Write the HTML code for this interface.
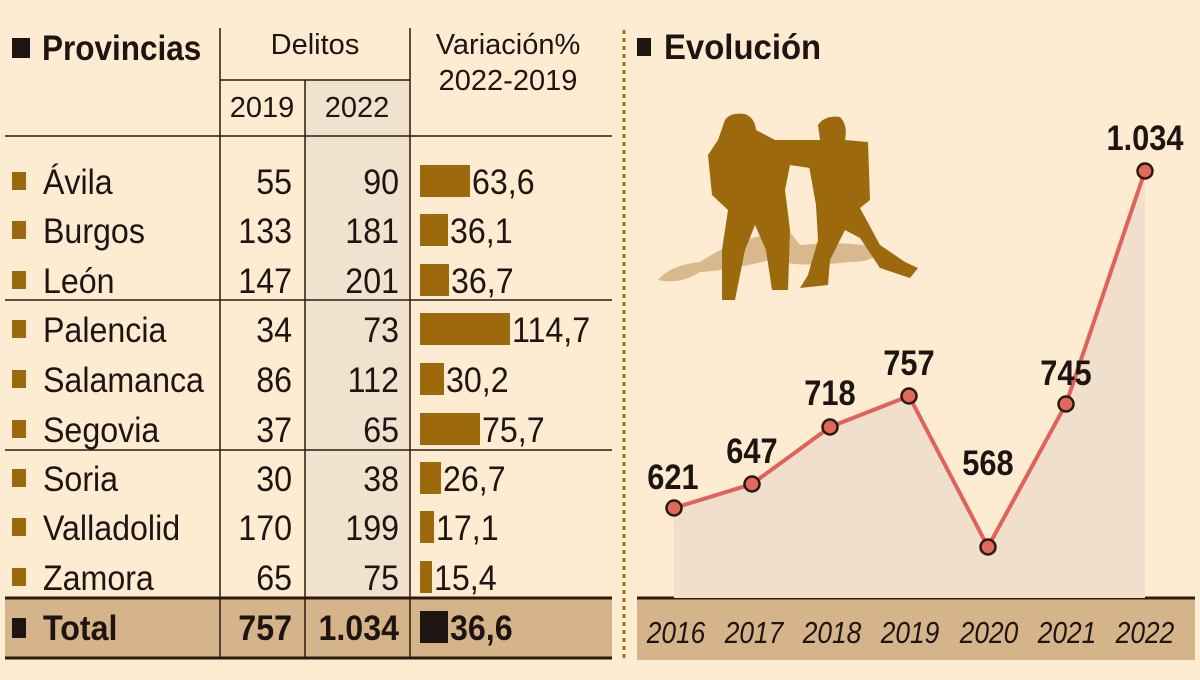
<!DOCTYPE html>
<html><head><meta charset="utf-8"><style>html,body{margin:0;padding:0;background:#fdecd2}</style></head><body>
<svg width="1200" height="675" viewBox="0 0 1200 675" xmlns="http://www.w3.org/2000/svg" font-family="Liberation Sans, sans-serif">
<rect width="1200" height="675" fill="#fdecd2"/>
<rect x="305" y="80" width="105" height="518" fill="#f1e2cf"/>
<rect x="5" y="598" width="607" height="60" fill="#d6b48a"/>
<g stroke="#2a1a10" stroke-width="1.5">
<line x1="220" y1="28" x2="220" y2="658"/>
<line x1="410" y1="28" x2="410" y2="658"/>
<line x1="220" y1="80" x2="410" y2="80"/>
<line x1="305" y1="80" x2="305" y2="658"/>
<line x1="5" y1="136" x2="612" y2="136"/>
<line x1="5" y1="300" x2="612" y2="300"/>
<line x1="5" y1="450" x2="612" y2="450"/>
</g>
<line x1="5" y1="598" x2="612" y2="598" stroke="#2a1a10" stroke-width="3"/>
<line x1="5" y1="658" x2="612" y2="658" stroke="#2a1a10" stroke-width="3"/>
<rect x="12" y="38" width="18" height="20" fill="#1e1412"/>
<text x="42" y="60" font-size="35" font-weight="bold" fill="#1e1412" transform="translate(42 0) scale(0.9 1) translate(-42 0)">Provincias</text>
<g font-size="29" fill="#1e1412" text-anchor="middle">
<text x="315" y="54">Delitos</text>
<text x="508" y="54">Variación%</text>
<text x="508" y="90">2022-2019</text>
<text x="262" y="117">2019</text>
<text x="357" y="117">2022</text>
</g>
<g fill="#9c6a0c">
<rect x="12" y="172" width="14" height="18"/><rect x="12" y="221" width="14" height="18"/><rect x="12" y="271" width="14" height="18"/>
<rect x="12" y="320" width="14" height="18"/><rect x="12" y="370" width="14" height="18"/><rect x="12" y="420" width="14" height="18"/>
<rect x="12" y="469" width="14" height="18"/><rect x="12" y="518" width="14" height="18"/><rect x="12" y="568" width="14" height="18"/>
<rect x="420" y="165" width="50" height="32"/>
<rect x="420" y="214" width="28" height="32"/>
<rect x="420" y="264" width="29" height="32"/>
<rect x="420" y="313" width="90" height="32"/>
<rect x="420" y="363" width="24" height="32"/>
<rect x="420" y="413" width="60" height="32"/>
<rect x="420" y="462" width="21" height="32"/>
<rect x="420" y="511" width="14" height="32"/>
<rect x="420" y="561" width="12" height="32"/>
</g>
<rect x="12" y="618" width="14" height="20" fill="#1e1412"/>
<rect x="420" y="611" width="28" height="32" fill="#1e1412"/>
<g font-size="35" fill="#1e1412" transform="scale(0.92 1)">
<text x="46.7" y="194">Ávila</text><text x="46.7" y="243">Burgos</text><text x="46.7" y="293">León</text>
<text x="46.7" y="342">Palencia</text><text x="46.7" y="392">Salamanca</text><text x="46.7" y="442">Segovia</text>
<text x="46.7" y="491">Soria</text><text x="46.7" y="540">Valladolid</text><text x="46.7" y="590">Zamora</text>
<text x="46.7" y="640" font-weight="bold">Total</text>
<g text-anchor="end">
<text x="317.4" y="194">55</text><text x="317.4" y="243">133</text><text x="317.4" y="293">147</text>
<text x="317.4" y="342">34</text><text x="317.4" y="392">86</text><text x="317.4" y="442">37</text>
<text x="317.4" y="491">30</text><text x="317.4" y="540">170</text><text x="317.4" y="590">65</text>
<text x="317.4" y="640" font-weight="bold">757</text>
<text x="433.7" y="194">90</text><text x="433.7" y="243">181</text><text x="433.7" y="293">201</text>
<text x="433.7" y="342">73</text><text x="433.7" y="392">112</text><text x="433.7" y="442">65</text>
<text x="433.7" y="491">38</text><text x="433.7" y="540">199</text><text x="433.7" y="590">75</text>
<text x="433.7" y="640" font-weight="bold">1.034</text>
</g>
<text x="513" y="194">63,6</text><text x="489.1" y="243">36,1</text><text x="490.2" y="293">36,7</text>
<text x="556.5" y="342">114,7</text><text x="484.8" y="392">30,2</text><text x="523.9" y="442">75,7</text>
<text x="481.5" y="491">26,7</text><text x="473.9" y="540">17,1</text><text x="471.7" y="590">15,4</text>
<text x="489.1" y="640" font-weight="bold">36,6</text>
</g>
<line x1="624" y1="30" x2="624" y2="662" stroke="#a0700f" stroke-width="3" stroke-dasharray="4 4"/>
<rect x="637" y="38" width="14" height="18" fill="#1e1412"/>
<text x="664" y="59" font-size="35" font-weight="bold" fill="#1e1412" transform="translate(664 0) scale(0.94 1) translate(-664 0)">Evolución</text>
<rect x="637" y="598" width="558" height="62" fill="#d6b48a"/>
<line x1="637" y1="598" x2="1195" y2="598" stroke="#2a1a10" stroke-width="3"/>
<polygon points="674,508 752,484 830,427 909,396 988,547 1066,404 1145,171 1145,598 674,598" fill="#f0dfcc"/>
<polyline points="674,508 752,484 830,427 909,396 988,547 1066,404 1145,171" fill="none" stroke="#e0625a" stroke-width="4"/>
<g fill="#e2685e" stroke="#2a1a10" stroke-width="2.5">
<circle cx="674" cy="508" r="7.5"/><circle cx="752" cy="484" r="7.5"/><circle cx="830" cy="427" r="7.5"/><circle cx="909" cy="396" r="7.5"/><circle cx="988" cy="547" r="7.5"/><circle cx="1066" cy="404" r="7.5"/><circle cx="1145" cy="171" r="7.5"/>
</g>
<g font-size="35" font-weight="bold" fill="#1e1412" text-anchor="middle">
<text x="673" y="489" transform="translate(673 0) scale(0.88 1) translate(-673 0)">621</text>
<text x="752" y="463" transform="translate(752 0) scale(0.88 1) translate(-752 0)">647</text>
<text x="830" y="405" transform="translate(830 0) scale(0.88 1) translate(-830 0)">718</text>
<text x="909" y="375" transform="translate(909 0) scale(0.88 1) translate(-909 0)">757</text>
<text x="988" y="475" transform="translate(988 0) scale(0.88 1) translate(-988 0)">568</text>
<text x="1066" y="385" transform="translate(1066 0) scale(0.88 1) translate(-1066 0)">745</text>
<text x="1145" y="150" transform="translate(1145 0) scale(0.88 1) translate(-1145 0)">1.034</text>
</g>
<g font-size="31" font-style="italic" fill="#1e1412" text-anchor="middle">
<text x="676" y="643" transform="translate(676 0) scale(0.85 1) translate(-676 0)">2016</text>
<text x="754" y="643" transform="translate(754 0) scale(0.85 1) translate(-754 0)">2017</text>
<text x="832" y="643" transform="translate(832 0) scale(0.85 1) translate(-832 0)">2018</text>
<text x="910" y="643" transform="translate(910 0) scale(0.85 1) translate(-910 0)">2019</text>
<text x="989" y="643" transform="translate(989 0) scale(0.85 1) translate(-989 0)">2020</text>
<text x="1067" y="643" transform="translate(1067 0) scale(0.85 1) translate(-1067 0)">2021</text>
<text x="1145" y="643" transform="translate(1145 0) scale(0.85 1) translate(-1145 0)">2022</text>
</g>
<path d="M658,280 Q670,265 700,262 Q740,235 790,232 L800,245 Q860,240 880,250 Q875,262 850,262 Q800,268 770,260 Q730,270 700,272 Q680,285 658,280 Z" fill="#d9b88e"/>
<path d="M725,120 Q730,112 745,114 Q755,118 756,130 L775,140 L800,142 L820,158 L832,170 L828,178 L810,168 L790,165 L785,190 L790,230 L788,290 L772,290 L766,250 L755,225 L745,250 L735,300 L722,300 L722,250 L728,210 L712,195 L708,155 L718,140 Z" fill="#9c6a0c"/>
<path d="M770,140 L820,140 L818,125 Q825,115 840,117 Q848,125 845,140 L868,142 L870,200 L860,208 L880,245 L905,262 L918,268 L910,278 L880,268 L860,238 L845,230 L830,260 L828,285 L800,288 L808,275 L818,240 L816,205 L808,160 L790,158 L770,155 Z" fill="#9c6a0c"/>
</svg>
</body></html>
